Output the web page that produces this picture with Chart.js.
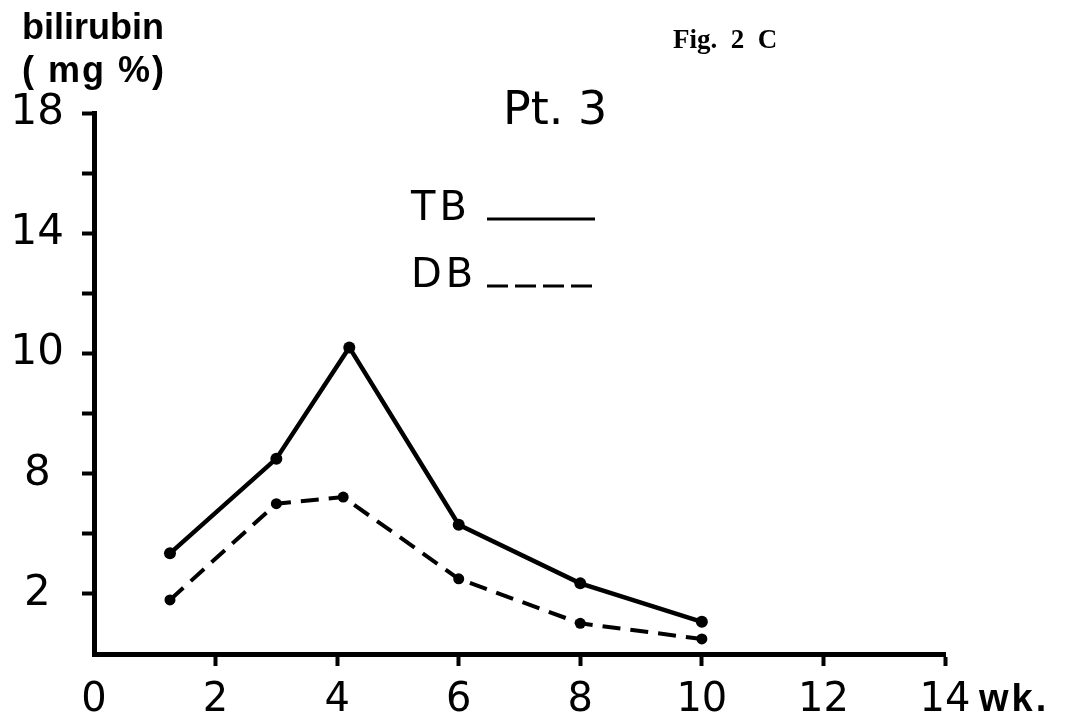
<!DOCTYPE html>
<html>
<head>
<meta charset="utf-8">
<script src="https://cdn.jsdelivr.net/npm/chart.js@4.4.0/dist/chart.umd.min.js"></script>
<style>
  html, body { margin: 0; padding: 0; background: #fff; }
  canvas { display: block; }
</style>
</head>
<body>
<canvas id="c" width="1068" height="718"></canvas>
<script>
// ---- data ----
const weeksTB = [1.25, 3, 4.2, 6, 8, 10];
const valuesTB = [3.35, 6.5, 10.2, 4.3, 2.35, 1.07];
const weeksDB = [1.25, 3, 4.1, 6, 8, 10];
const valuesDB = [1.8, 5.0, 5.22, 2.5, 1.02, 0.5];
const xTickValues = [0, 2, 4, 6, 8, 10, 12, 14];
const xTickLabels = ['0', '2', '4', '6', '8', '10', '12', '14'];
const yTickValues = [2, 6, 10, 14, 18];
const yTickLabels = ['2', '8', '10', '14', '18'];
const seriesNames = ['TB', 'DB'];

const toPts = (xs, ys) => xs.map((x, i) => ({ x: x, y: ys[i] }));

const annotations = {
  id: 'annotations',
  afterDraw(chart) {
    const ctx = chart.ctx;
    ctx.save();
    ctx.fillStyle = '#000';
    ctx.textBaseline = 'alphabetic';
    ctx.textAlign = 'left';
    // y-axis title
    ctx.font = 'bold 36px "Liberation Sans", Arial, sans-serif';
    ctx.fillText('bilirubin', 22, 39);
    ctx.letterSpacing = '2px';
    ctx.fillText('( mg %)', 22, 82);
    ctx.letterSpacing = '0px';
    // figure label
    ctx.font = 'bold 27px "Liberation Serif", "Times New Roman", serif';
    ctx.fillText('Fig.  2  C', 673, 48);
    // panel title
    ctx.font = '46px "DejaVu Sans", sans-serif';
    ctx.fillText('Pt. 3', 503, 124);
    // x-axis unit
    ctx.font = 'bold 38px "Liberation Sans", Arial, sans-serif';
    ctx.letterSpacing = '3px';
    ctx.fillText('wk.', 979, 711);
    ctx.letterSpacing = '0px';
    // legend
    ctx.font = '40px "DejaVu Sans", sans-serif';
    ctx.letterSpacing = '4px';
    const legendY = [220, 287];
    chart.data.datasets.forEach((ds, i) => {
      ctx.fillText(seriesNames[i], 411, legendY[i]);
      ctx.beginPath();
      ctx.lineWidth = 3;
      ctx.strokeStyle = '#000';
      ctx.setLineDash(i === 0 ? [] : [21, 7]);
      ctx.moveTo(487, legendY[i] - 1);
      ctx.lineTo(595, legendY[i] - 1);
      ctx.stroke();
    });
    ctx.restore();
  }
};

new Chart(document.getElementById('c'), {
  type: 'scatter',
  data: {
    datasets: [
      {
        label: seriesNames[0],
        data: toPts(weeksTB, valuesTB),
        showLine: true,
        borderColor: '#000',
        backgroundColor: '#000',
        borderWidth: 4.5,
        pointRadius: 6,
        pointBorderWidth: 0,
        pointBackgroundColor: '#000'
      },
      {
        label: seriesNames[1],
        data: toPts(weeksDB, valuesDB),
        showLine: true,
        borderColor: '#000',
        backgroundColor: '#000',
        borderWidth: 4,
        borderDash: [18, 10],
        pointRadius: 5.5,
        pointBorderWidth: 0,
        pointBackgroundColor: '#000'
      }
    ]
  },
  options: {
    responsive: false,
    animation: false,
    layout: { padding: { left: 10, right: 123, top: 113, bottom: 0 } },
    plugins: { legend: { display: false }, tooltip: { enabled: false } },
    scales: {
      x: {
        type: 'linear',
        min: 0, max: 14,
        afterBuildTicks(axis) { axis.ticks = xTickValues.map(v => ({ value: v })); },
        afterFit(axis) { axis.height = 64; },
        ticks: {
          color: '#000',
          padding: 10.5,
          font: { family: '"DejaVu Sans", sans-serif', size: 40, lineHeight: 1.2 },
          callback(v) { const i = xTickValues.indexOf(v); return i >= 0 ? xTickLabels[i] : ''; }
        },
        grid: {
          drawOnChartArea: false,
          drawTicks: true,
          tickLength: 12,
          tickWidth: 4,
          tickColor: (c) => (c.tick && c.tick.value === 0) ? 'rgba(0,0,0,0)' : '#000'
        },
        border: { display: true, color: '#000', width: 5 }
      },
      y: {
        type: 'linear',
        min: 0, max: 18,
        afterBuildTicks(axis) {
          const t = [];
          for (let v = 0; v <= 18; v += 2) t.push({ value: v });
          axis.ticks = t;
        },
        afterFit(axis) { axis.width = 84; },
        ticks: {
          color: '#000',
          padding: 18,
          crossAlign: 'center',
          font: { family: '"DejaVu Sans", sans-serif', size: 42, lineHeight: 1.2 },
          callback(v) { const i = yTickValues.indexOf(v); return i >= 0 ? yTickLabels[i] : ''; }
        },
        grid: {
          drawOnChartArea: false,
          drawTicks: true,
          tickLength: 12,
          tickWidth: 4,
          tickColor: (c) => (c.tick && c.tick.value === 0) ? 'rgba(0,0,0,0)' : '#000'
        },
        border: { display: true, color: '#000', width: 5 }
      }
    }
  },
  plugins: [annotations]
});
</script>
</body>
</html>
